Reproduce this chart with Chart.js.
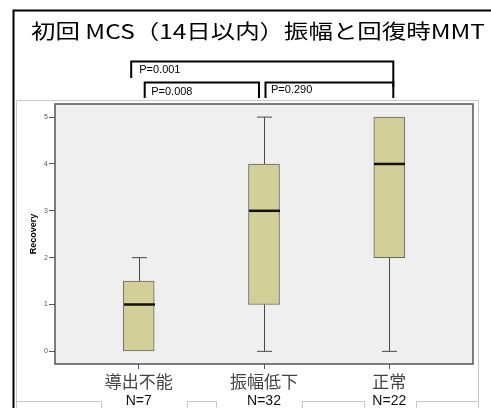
<!DOCTYPE html>
<html>
<head>
<meta charset="utf-8">
<script src="https://cdn.jsdelivr.net/npm/chart.js@4/dist/chart.umd.min.js"></script>
<style>
  html, body { margin: 0; padding: 0; background: #fff; }
  canvas { display: block; }
</style>
</head>
<body>
<canvas id="c" width="491" height="408"></canvas>
<script>
// Recovery MMT by initial MCS amplitude group
const groups = ['導出不能', '振幅低下', '正常'];
const groupSizes = ['N=7', 'N=32', 'N=22'];
const whiskerLow = [0, 0, 0];
const q1 = [0, 1, 2];
const median = [1, 3, 4];
const q3 = [1.5, 4, 5];
const whiskerHigh = [2, 5, 5];
const yTicks = [0, 1, 2, 3, 4, 5];
const comparisons = [[0, 2], [0, 1], [1, 2]];
const pValues = ['P=0.001', 'P=0.008', 'P=0.290'];
const titleText = '初回 MCS（14日以内）振幅と回復時MMT';

const CJK = '"Noto Sans CJK JP", "Noto Sans", sans-serif';
const LATIN = '"Liberation Sans", Arial, sans-serif';

// Bracket layout for the significance annotations (pixel offsets from group centres)
const bracketStyle = [
  { top: 61.5, dl: -7.5, dr: 4, legL: 78, legR: 87, tx: 8, ty: 70 },
  { top: 82.5, dl: 6, dr: -5, legL: 98, legR: 98, tx: 6.5, ty: 91.5 },
  { top: 82.5, dl: 1.5, dr: 4, legL: 98, legR: 98, tx: 5.5, ty: 90 }
];

const decor = {
  id: 'decor',
  beforeDraw(chart) {
    const { ctx, chartArea: a } = chart;
    ctx.save();
    ctx.fillStyle = '#fff';
    ctx.fillRect(0, 0, chart.width, chart.height);
    // outer frame (top and left)
    ctx.strokeStyle = '#000';
    ctx.lineWidth = 2;
    ctx.beginPath();
    ctx.moveTo(13.5, chart.height + 2);
    ctx.lineTo(13.5, 10.5);
    ctx.lineTo(chart.width + 2, 10.5);
    ctx.stroke();
    // inner light panel
    ctx.strokeStyle = '#c8c8c8';
    ctx.lineWidth = 1;
    ctx.beginPath();
    ctx.moveTo(16.5, 401.5);
    ctx.lineTo(16.5, 100.5);
    ctx.lineTo(478.5, 100.5);
    ctx.lineTo(478.5, 401.5);
    ctx.stroke();
    [[16.5, 101.5], [187.5, 216.5], [302.5, 364.5], [416.5, 478.5]].forEach(([x0, x1]) => {
      ctx.strokeRect(x0, 401.5, x1 - x0, 20);
    });
    // plot background
    ctx.fillStyle = '#efefef';
    ctx.fillRect(a.left, a.top, a.right - a.left, a.bottom - a.top);
    ctx.restore();
  },
  afterDatasetsDraw(chart) {
    const { ctx, scales: { x, y } } = chart;
    ctx.save();
    groups.forEach((g, i) => {
      const cx = Math.round(x.getPixelForValue(i)) + 0.5;
      const yLo = y.getPixelForValue(whiskerLow[i]);
      const yQ1 = y.getPixelForValue(q1[i]);
      const yQ3 = y.getPixelForValue(q3[i]);
      const yHi = y.getPixelForValue(whiskerHigh[i]);
      ctx.strokeStyle = '#4a4a4a';
      ctx.lineWidth = 1;
      if (whiskerHigh[i] > q3[i]) {
        ctx.beginPath();
        ctx.moveTo(cx, yQ3); ctx.lineTo(cx, yHi);
        ctx.moveTo(cx - 7.5, yHi); ctx.lineTo(cx + 7.5, yHi);
        ctx.stroke();
      }
      if (whiskerLow[i] < q1[i]) {
        ctx.beginPath();
        ctx.moveTo(cx, yQ1); ctx.lineTo(cx, yLo);
        ctx.moveTo(cx - 7.5, yLo); ctx.lineTo(cx + 7.5, yLo);
        ctx.stroke();
      }
      const ym = y.getPixelForValue(median[i]);
      ctx.strokeStyle = '#111';
      ctx.lineWidth = 2.5;
      ctx.beginPath();
      ctx.moveTo(cx - 15.5, ym); ctx.lineTo(cx + 15.5, ym);
      ctx.stroke();
    });
    ctx.restore();
  },
  afterDraw(chart) {
    const { ctx, chartArea: a, scales: { x } } = chart;
    ctx.save();
    // plot frame
    ctx.strokeStyle = '#555';
    ctx.lineWidth = 1.5;
    ctx.strokeRect(a.left, a.top, a.right - a.left, a.bottom - a.top);

    // significance brackets
    ctx.strokeStyle = '#000';
    ctx.lineWidth = 2;
    ctx.fillStyle = '#000';
    ctx.font = '11px ' + LATIN;
    ctx.textBaseline = 'middle';
    ctx.textAlign = 'left';
    comparisons.forEach(([g0, g1], k) => {
      const s = bracketStyle[k];
      const xl = x.getPixelForValue(g0) + s.dl;
      const xr = x.getPixelForValue(g1) + s.dr;
      ctx.beginPath();
      ctx.moveTo(xl, s.legL);
      ctx.lineTo(xl, s.top);
      ctx.lineTo(xr, s.top);
      ctx.lineTo(xr, s.legR);
      ctx.stroke();
      ctx.fillText(pValues[k], xl + s.tx, s.ty);
    });

    // title, stretched to its frame width
    ctx.font = '20px ' + CJK;
    ctx.fillStyle = '#000';
    const w = ctx.measureText(titleText).width;
    const target = 454;
    ctx.translate(31, 31.5);
    ctx.scale(target / w, 1);
    ctx.fillText(titleText, 0, 0);
    ctx.setTransform(1, 0, 0, 1, 0, 0);

    // group sizes under the category names
    ctx.font = '14px ' + LATIN;
    ctx.fillStyle = '#111';
    ctx.textAlign = 'center';
    groupSizes.forEach((n, i) => {
      ctx.fillText(n, x.getPixelForValue(i), 401);
    });
    ctx.restore();
  }
};

new Chart(document.getElementById('c'), {
  type: 'bar',
  data: {
    datasets: [{
      data: groups.map((g, i) => ({ x: i, y: [q1[i], q3[i]] })),
      backgroundColor: '#d3cf98',
      borderColor: '#666',
      borderWidth: 1,
      borderSkipped: false,
      barThickness: 31
    }]
  },
  options: {
    responsive: false,
    animation: false,
    events: [],
    layout: { padding: { left: 15, top: 104, right: 18, bottom: 0 } },
    plugins: { legend: { display: false }, tooltip: { enabled: false }, title: { display: false } },
    scales: {
      x: {
        type: 'linear',
        min: -0.668,
        max: 2.668,
        offset: false,
        afterBuildTicks: s => { s.ticks = groups.map((g, i) => ({ value: i })); },
        afterFit: s => { s.height = 44; },
        grid: { drawOnChartArea: false, drawTicks: true, tickLength: 5, color: '#555', offset: false },
        border: { display: false },
        ticks: {
          autoSkip: false,
          maxRotation: 0,
          padding: 2,
          color: '#444',
          font: { family: CJK, size: 17 },
          callback: v => groups[v]
        }
      },
      y: {
        min: -0.27,
        max: 5.28,
        afterBuildTicks: s => { s.ticks = yTicks.map(v => ({ value: v })); },
        afterFit: s => { s.width = 40; },
        grid: { drawOnChartArea: false, drawTicks: true, tickLength: 6, color: '#555' },
        border: { display: false },
        ticks: { padding: 1, color: '#555', font: { family: LATIN, size: 7 } },
        title: {
          display: true,
          text: 'Recovery',
          color: '#000',
          font: { family: LATIN, size: 9, weight: 'bold' },
          padding: { top: 13, bottom: 0 }
        }
      }
    }
  },
  plugins: [decor]
});
</script>
</body>
</html>
